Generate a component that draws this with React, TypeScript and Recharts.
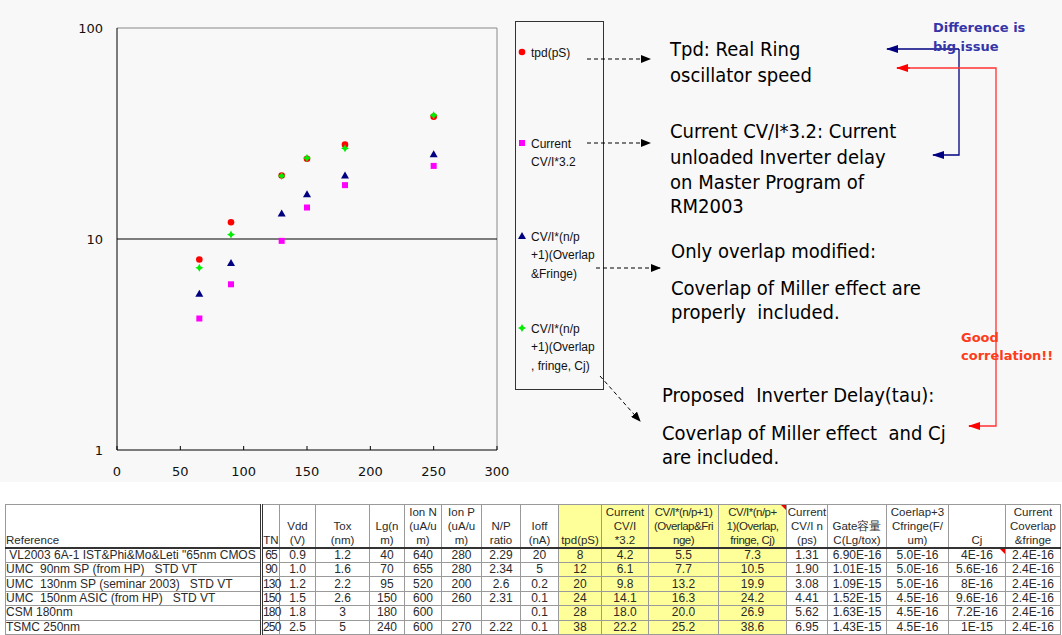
import React from 'react';
import { ScatterChart, Scatter, XAxis, YAxis, ReferenceLine, Legend } from 'recharts';

// technology node (nm) and delay values (ps)
const nodes = [65, 90, 130, 150, 180, 250];
const tpd = [8, 12, 20, 24, 28, 38];
const cvi32 = [4.2, 6.1, 9.8, 14.1, 18.0, 22.2];
const cviOverlap = [5.5, 7.7, 13.2, 16.3, 20.0, 25.2];
const cviOverlapCj = [7.3, 10.5, 19.9, 24.2, 26.9, 38.6];

const xTicks = [0, 50, 100, 150, 200, 250, 300];
const yTicks = [1, 10, 100];

// rest of the process table
const references = [
  ' VL2003 6A-1 IST&Phi&Mo&Leti "65nm CMOS',
  'UMC  90nm SP (from HP)   STD VT',
  'UMC  130nm SP (seminar 2003)   STD VT',
  'UMC  150nm ASIC (from HP)   STD VT',
  'CSM 180nm',
  'TSMC 250nm',
];
const vdd = ['0.9', '1.0', '1.2', '1.5', '1.8', '2.5'];
const tox = ['1.2', '1.6', '2.2', '2.6', '3', '5'];
const lg = ['40', '70', '95', '150', '180', '240'];
const ionN = ['640', '655', '520', '600', '600', '600'];
const ionP = ['280', '280', '200', '260', '', '270'];
const npRatio = ['2.29', '2.34', '2.6', '2.31', '', '2.22'];
const ioff = ['20', '5', '0.2', '0.1', '0.1', '0.1'];
const cviN = ['1.31', '1.90', '3.08', '4.41', '5.62', '6.95'];
const gateCap = ['6.90E-16', '1.01E-15', '1.09E-15', '1.52E-15', '1.63E-15', '1.43E-15'];
const coverlapFringe = ['5.0E-16', '5.0E-16', '5.0E-16', '4.5E-16', '4.5E-16', '4.5E-16'];
const cj = ['4E-16', '5.6E-16', '8E-16', '9.6E-16', '7.2E-16', '1E-15'];
const curCoverlap = ['2.4E-16', '2.4E-16', '2.4E-16', '2.4E-16', '2.4E-16', '2.4E-16'];

const headers = [
  ['Reference'], ['TN'], ['Vdd', '(V)'], ['Tox', '(nm)'], ['Lg(n', 'm)'],
  ['Ion N', '(uA/u', 'm)'], ['Ion P', '(uA/u', 'm)'], ['N/P', 'ratio'], ['Ioff', '(nA)'],
  ['tpd(pS)'], ['Current', 'CV/I', '*3.2'], ['CV/I*(n/p+1)', '(Overlap&Fri', 'nge)'],
  ['CV/I*(n/p+', '1)(Overlap,', 'fringe, Cj)'], ['Current', 'CV/I n', '(ps)'],
  ['Gate容量', 'C(Lg/tox)'], ['Coerlap+3', 'Cfringe(F/', 'um)'], ['Cj'],
  ['Current', 'Coverlap', '&fringe'],
];
const colWidths = [256, 18, 36, 54, 35, 37, 40, 39, 38, 43, 47, 70, 68, 41, 59, 62, 57, 55];
const yellowCols = [9, 10, 11, 12];

const markerTpd = (p: any) => <circle cx={p.cx} cy={p.cy} r={3.3} fill="#ff0000" />;
const markerSquare = (p: any) => <rect x={p.cx - 3} y={p.cy - 3} width={6} height={6} fill="#ff00ff" />;
const markerTri = (p: any) => (
  <path d={`M${p.cx},${p.cy - 4} L${p.cx + 4},${p.cy + 3} L${p.cx - 4},${p.cy + 3} Z`} fill="#000080" />
);
const markerDiamond = (p: any) => (
  <path
    d={`M${p.cx},${p.cy - 4} L${p.cx + 1.4},${p.cy - 1.4} L${p.cx + 4},${p.cy} L${p.cx + 1.4},${p.cy + 1.4} L${p.cx},${p.cy + 4} L${p.cx - 1.4},${p.cy + 1.4} L${p.cx - 4},${p.cy} L${p.cx - 1.4},${p.cy - 1.4} Z`}
    fill="#00ee00"
  />
);

const series = [
  { key: 'tpd', values: tpd, shape: markerTpd, label: ['tpd(pS)'], top: 52 },
  { key: 'cvi32', values: cvi32, shape: markerSquare, label: ['Current', 'CV/I*3.2'], top: 143 },
  { key: 'overlap', values: cviOverlap, shape: markerTri, label: ['CV/I*(n/p', '+1)(Overlap', '&Fringe)'], top: 236 },
  { key: 'overlapCj', values: cviOverlapCj, shape: markerDiamond, label: ['CV/I*(n/p', '+1)(Overlap', ', fringe, Cj)'], top: 328 },
];

const axisFont = { fontFamily: 'DejaVu Sans', fontSize: 13, fill: '#111' };
const bigFont: React.CSSProperties = {
  fontFamily: "'DejaVu Sans Condensed', 'DejaVu Sans'",
  fontStretch: 'condensed',
  fontSize: 20,
  fill: '#000',
  whiteSpace: 'pre',
};

const XTick = (props: any) => {
  const { x, y, payload } = props;
  return (
    <g>
      <line x1={x} x2={x} y1={y - 4} y2={y} stroke="#000" />
      <text x={x} y={y + 26} textAnchor="middle" {...axisFont}>{payload.value}</text>
    </g>
  );
};

const YTick = (props: any) => {
  const { x, y, payload } = props;
  return (
    <text x={x - 14} y={y + 5} textAnchor="end" {...axisFont}>{payload.value}</text>
  );
};

const LegendBox = () => (
  <svg width={89} height={369} style={{ display: 'block' }}>
    <rect x={0.5} y={0.5} width={88} height={368} fill="none" stroke="#333" />
    {series.map((s) => {
      const y0 = s.top - 21;
      return (
        <g key={s.key}>
          {s.shape({ cx: 7, cy: y0 })}
          {s.label.map((t, i) => (
            <text
              key={i}
              x={16}
              y={y0 + 4.5 + i * 18.5}
              fontFamily="'Liberation Sans', Arial"
              fontSize={12}
              fill="#111"
              xmlSpace="preserve"
            >
              {t}
            </text>
          ))}
        </g>
      );
    })}
  </svg>
);

const Line2 = ({ x, y, t }: { x: number; y: number; t: string }) => (
  <text x={x} y={y} xmlSpace="preserve" style={bigFont}>{t}</text>
);

const Notes = () => (
  <svg
    width={1062}
    height={482}
    style={{ position: 'absolute', left: 0, top: 0, pointerEvents: 'none' }}
  >
    <defs>
      <marker id="ah" markerUnits="userSpaceOnUse" markerWidth={10} markerHeight={8} refX={9} refY={4} orient="auto">
        <path d="M0,0 L10,4 L0,8 Z" fill="#000" />
      </marker>
      <marker id="ahBlue" markerUnits="userSpaceOnUse" markerWidth={12} markerHeight={8} refX={11} refY={4} orient="auto">
        <path d="M0,0 L12,4 L0,8 Z" fill="#000080" />
      </marker>
      <marker id="ahRed" markerUnits="userSpaceOnUse" markerWidth={12} markerHeight={8} refX={11} refY={4} orient="auto">
        <path d="M0,0 L12,4 L0,8 Z" fill="#ff0000" />
      </marker>
    </defs>

    <g stroke="#000" strokeDasharray="4 3" fill="none">
      <line x1={587} y1={59} x2={650} y2={59} markerEnd="url(#ah)" />
      <line x1={587} y1={143} x2={650} y2={143} markerEnd="url(#ah)" />
      <line x1={596} y1={268} x2={660} y2={268} markerEnd="url(#ah)" />
      <line x1={600} y1={376} x2={640} y2={421} markerEnd="url(#ah)" />
    </g>

    <Line2 x={670} y={56} t="Tpd: Real Ring" />
    <Line2 x={670} y={82} t="oscillator speed" />
    <Line2 x={670} y={138} t="Current CV/I*3.2: Current" />
    <Line2 x={670} y={164} t="unloaded Inverter delay" />
    <Line2 x={670} y={189} t="on Master Program of" />
    <Line2 x={670} y={213} t="RM2003" />
    <Line2 x={671} y={258} t="Only overlap modified:" />
    <Line2 x={671} y={295} t="Coverlap of Miller effect are" />
    <Line2 x={671} y={319} t="properly  included." />
    <Line2 x={662} y={402} t="Proposed  Inverter Delay(tau):" />
    <Line2 x={662} y={440} t="Coverlap of Miller effect  and Cj" />
    <Line2 x={662} y={464} t="are included." />

    <polyline points="959,49 959,155 933,155" fill="none" stroke="#000080" strokeWidth={1.3} markerEnd="url(#ahBlue)" />
    <line x1={959} y1={49} x2={887} y2={49} stroke="#000080" strokeWidth={1.3} markerEnd="url(#ahBlue)" />
    <polyline points="897,68 996,68 996,426 969,426" fill="none" stroke="#ff3030" strokeWidth={1.3} />
    <line x1={910} y1={68} x2={897} y2={68} stroke="#ff0000" markerEnd="url(#ahRed)" />
    <line x1={980} y1={426} x2={969} y2={426} stroke="#ff0000" markerEnd="url(#ahRed)" />

    <g fontFamily="'DejaVu Sans'" fontWeight="bold" fontSize={13}>
      <text x={933} y={32} fill="#3535a8">Difference is</text>
      <text x={933} y={51} fill="#3535a8">big issue</text>
      <text x={961} y={342} fill="#ff3b1a">Good</text>
      <text x={961} y={360} fill="#ff3b1a">correlation!!</text>
    </g>
  </svg>
);

const cellText = (col: number, row: number): string => {
  const cols = [
    references, nodes.map(String), vdd, tox, lg, ionN, ionP, npRatio, ioff,
    tpd.map(String), cvi32.map((v) => v.toFixed(1)), cviOverlap.map((v) => v.toFixed(1)),
    cviOverlapCj.map((v) => v.toFixed(1)), cviN, gateCap, coverlapFringe, cj, curCoverlap,
  ];
  return cols[col][row];
};

const redFlag = (
  <div
    style={{
      position: 'absolute', right: 0, top: 0, width: 0, height: 0,
      borderTop: '5px solid #e00', borderLeft: '5px solid transparent',
    }}
  />
);

const DataTable = () => {
  const border = '1px solid #9a9a9a';
  return (
    <table
      style={{
        position: 'absolute', left: 5, top: 504, borderCollapse: 'collapse', tableLayout: 'fixed',
        fontFamily: "'Liberation Sans', Arial", fontSize: 12, color: '#2a2a2a', width: 1055,
      }}
    >
      <colgroup>
        {colWidths.map((w, i) => (
          <col key={i} style={{ width: w }} />
        ))}
      </colgroup>
      <thead>
        <tr style={{ height: 41 }}>
          {headers.map((h, i) => (
            <th
              key={i}
              style={{
                fontWeight: 'normal', verticalAlign: 'bottom', lineHeight: '14px', padding: 0,
                fontSize: 11.5,
                textAlign: i === 0 ? 'left' : 'center', whiteSpace: 'nowrap', overflow: 'visible',
                border, borderBottom: '2px solid #333', borderLeft: i === 1 ? '3px double #333' : border,
                background: yellowCols.includes(i) ? '#ffff99' : 'transparent', position: 'relative',
                letterSpacing: i === 11 || i === 12 ? -0.5 : 0,
              }}
            >
              {h.map((t, k) => (
                <div key={k}>{t}</div>
              ))}
              {i === 12 ? redFlag : null}
            </th>
          ))}
        </tr>
      </thead>
      <tbody>
        {nodes.map((_, r) => (
          <tr key={r} style={{ height: 14.4 }}>
            {headers.map((__, c) => (
              <td
                key={c}
                style={{
                  padding: 0, lineHeight: '13px', whiteSpace: 'pre', overflow: 'visible',
                  textAlign: c === 0 ? 'left' : 'center', border,
                  borderLeft: c === 1 ? '3px double #333' : border,
                  background: yellowCols.includes(c) ? '#ffff99' : 'transparent', position: 'relative',
                  letterSpacing: c === 1 ? -0.8 : 0,
                }}
              >
                {cellText(c, r)}
                {c === 16 && r === 0 ? redFlag : null}
              </td>
            ))}
          </tr>
        ))}
      </tbody>
    </table>
  );
};

export default function App() {
  return (
    <div style={{ position: 'absolute', left: 0, top: 0, width: 1062, height: 635, background: '#fff', overflow: 'hidden' }}>
      <div style={{ position: 'absolute', left: 0, top: 0, width: 1062, height: 482, background: '#f8f8f8' }} />
      <div style={{ position: 'absolute', left: 0, top: 0 }}>
        <ScatterChart width={1062} height={482} margin={{ top: 28, left: 57, right: 565, bottom: 2 }}>
          <XAxis
            type="number"
            dataKey="x"
            domain={[0, 300]}
            ticks={xTicks}
            height={30}
            tickSize={0}
            tickMargin={0}
            tick={XTick}
            axisLine={{ stroke: '#000' }}
            tickLine={false}
          />
          <YAxis
            type="number"
            dataKey="y"
            scale="log"
            domain={[1, 100]}
            ticks={yTicks}
            width={60}
            tickSize={0}
            tickMargin={0}
            tick={YTick}
            axisLine={{ stroke: '#000' }}
            tickLine={false}
            allowDataOverflow
          />
          <ReferenceLine y={100} stroke="#8a8a8a" />
          <ReferenceLine x={300} stroke="#8a8a8a" />
          <ReferenceLine y={10} stroke="#000" />
          <Legend
            layout="vertical"
            align="center"
            verticalAlign="middle"
            content={() => <LegendBox />}
            wrapperStyle={{ position: 'absolute', left: 515, top: 21, width: 89, height: 369 }}
          />
          {series.map((s) => (
            <Scatter
              key={s.key}
              name={s.label.join(' ')}
              data={nodes.map((x, i) => ({ x, y: s.values[i] }))}
              shape={s.shape}
              isAnimationActive={false}
            />
          ))}
        </ScatterChart>
      </div>
      <Notes />
      <DataTable />
    </div>
  );
}
